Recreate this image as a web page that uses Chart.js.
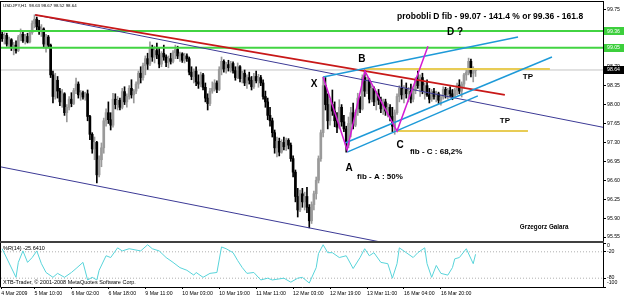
<!DOCTYPE html>
<html><head><meta charset="utf-8">
<script src="https://cdn.jsdelivr.net/npm/chart.js@4.4.0/dist/chart.umd.min.js"></script>
<style>
html,body{margin:0;padding:0;background:#fff;overflow:hidden;width:625px;height:296px}
#w1{position:absolute;left:0;top:0;width:625px;height:243px}
#w2{position:absolute;left:0;top:243px;width:625px;height:53px}
</style></head><body>
<div id="w1"><canvas id="c1"></canvas></div>
<div id="w2"><canvas id="c2"></canvas></div>
<script>
// ---------- DATA (bar index = hourly bar, prices in JPY) ----------
const open = [
99.30,99.22,99.28,99.12,99.20,99.05,99.10,99.00,99.25,99.30,
99.18,99.26,99.16,99.33,99.50,99.58,99.44,99.36,99.40,99.12,
99.25,99.10,98.55,98.15,98.45,98.25,98.05,98.20,97.85,97.95,
98.10,98.02,98.26,98.38,98.18,98.22,98.14,98.20,97.78,97.45,
97.18,97.30,96.70,96.98,97.20,97.70,97.85,97.72,97.62,98.10,
98.00,98.08,97.95,98.24,98.05,98.15,98.30,98.18,98.25,98.38,
98.58,98.50,98.72,98.85,98.75,99.05,98.88,99.00,98.92,98.75,
98.95,98.88,98.78,98.85,98.80,98.96,99.02,98.90,98.94,98.82,
98.90,98.85,98.60,98.52,98.62,98.42,98.38,98.55,98.32,98.12,
98.02,98.25,98.30,98.40,98.28,98.65,98.80,98.66,98.74,98.68,
98.76,98.63,98.50,98.70,98.48,98.58,98.40,98.50,98.45,98.33,
98.52,98.44,98.50,98.40,98.15,98.05,97.80,97.70,97.48,97.20,
97.32,97.12,97.30,97.22,97.34,97.25,97.00,96.75,96.30,96.05,
96.35,96.20,96.30,96.10,95.85,96.15,96.35,96.60,97.00,97.48,
98.35,98.00,97.70,98.00,97.88,97.70,97.58,97.95,97.68,97.55,
97.25,97.65,97.85,97.62,97.86,98.12,97.92,98.50,98.25,98.45,
98.10,98.30,98.05,98.20,98.08,97.92,98.05,97.88,97.95,97.78,
97.60,97.85,98.15,98.30,98.18,98.28,98.20,98.25,98.10,98.26,
98.45,98.35,98.50,98.25,98.35,98.18,98.10,98.24,98.15,98.20,
98.08,98.14,98.28,98.18,98.26,98.20,98.15,98.27,98.36,98.25,
98.38,98.55,98.60,98.80,98.58,98.63];
const high = [
99.36,99.33,99.32,99.25,99.22,99.15,99.18,99.28,99.40,99.35,
99.30,99.32,99.36,99.55,99.66,99.62,99.56,99.48,99.42,99.30,
99.28,99.12,98.62,98.58,98.52,98.30,98.28,98.22,98.00,98.15,
98.22,98.30,98.49,98.42,98.26,98.25,98.23,98.27,97.80,97.48,
97.40,97.32,97.05,97.29,97.75,97.92,98.05,97.85,98.21,98.20,
98.15,98.12,98.30,98.33,98.20,98.35,98.46,98.28,98.42,98.62,
98.70,98.77,98.90,98.95,99.16,99.10,99.08,99.14,99.05,98.98,
99.10,98.92,98.90,98.95,99.00,99.10,99.08,98.97,98.96,98.95,
98.94,98.88,98.70,98.66,98.70,98.55,98.60,98.58,98.40,98.20,
98.30,98.42,98.46,98.44,98.70,98.88,98.83,98.78,98.82,98.80,
98.79,98.70,98.77,98.72,98.62,98.64,98.55,98.60,98.52,98.58,
98.62,98.56,98.54,98.46,98.25,98.12,97.95,97.75,97.53,97.40,
97.38,97.35,97.40,97.38,97.37,97.29,97.05,96.79,96.45,96.42,
96.45,96.38,96.47,96.15,96.20,96.40,96.66,97.05,97.53,98.51,
98.50,98.20,98.10,98.27,98.05,97.85,98.09,98.00,97.80,97.60,
97.77,97.95,98.03,97.90,98.21,98.15,98.55,98.64,98.51,98.48,
98.35,98.33,98.25,98.28,98.14,98.10,98.10,98.02,98.00,97.95,
97.90,98.20,98.35,98.46,98.35,98.40,98.32,98.38,98.30,98.50,
98.62,98.55,98.58,98.40,98.46,98.30,98.28,98.30,98.25,98.23,
98.18,98.33,98.32,98.30,98.33,98.28,98.30,98.40,98.46,98.42,
98.58,98.64,98.86,98.84,98.70,98.67];
const low = [
99.17,99.12,99.08,99.07,99.00,98.92,98.95,98.98,99.18,99.15,
99.12,99.14,99.14,99.30,99.42,99.38,99.30,99.26,99.05,98.97,
99.05,98.50,98.03,98.10,98.12,97.98,97.95,97.80,97.68,97.90,
97.96,98.00,98.20,98.12,98.08,98.10,98.08,97.70,97.35,97.10,
96.98,96.55,96.66,96.85,97.10,97.60,97.65,97.53,97.58,97.92,
97.90,97.90,97.92,98.00,97.95,98.10,98.12,98.03,98.20,98.30,
98.40,98.45,98.55,98.65,98.72,98.80,98.77,98.85,98.68,98.70,
98.82,98.70,98.68,98.75,98.77,98.85,98.85,98.80,98.78,98.77,
98.80,98.55,98.46,98.40,98.35,98.30,98.33,98.27,98.05,97.90,
97.98,98.21,98.25,98.22,98.26,98.55,98.60,98.58,98.62,98.60,
98.58,98.45,98.48,98.42,98.40,98.35,98.30,98.38,98.27,98.30,
98.40,98.32,98.35,98.10,97.95,97.72,97.60,97.40,97.10,97.03,
97.05,97.10,97.16,97.15,97.18,96.95,96.66,96.20,95.92,96.02,
96.10,96.05,96.00,95.72,95.80,96.05,96.25,96.55,96.95,97.40,
97.90,97.55,97.62,97.80,97.59,97.48,97.55,97.60,97.50,97.12,
97.20,97.40,97.55,97.59,97.80,97.85,97.90,98.15,98.20,98.03,
98.05,97.98,97.90,98.00,97.85,97.82,97.80,97.77,97.70,97.50,
97.45,97.82,98.05,98.10,98.03,98.12,98.05,98.03,98.05,98.20,
98.30,98.15,98.20,98.10,98.15,98.03,98.06,98.10,98.05,98.02,
97.99,98.10,98.12,98.10,98.14,98.09,98.12,98.18,98.20,98.14,
98.33,98.45,98.55,98.51,98.42,98.52];
const close = [
99.22,99.28,99.12,99.20,99.05,99.10,99.00,99.25,99.30,99.18,
99.26,99.16,99.33,99.50,99.58,99.44,99.36,99.40,99.12,99.25,
99.10,98.55,98.15,98.45,98.25,98.05,98.20,97.85,97.95,98.10,
98.02,98.26,98.38,98.18,98.22,98.14,98.20,97.78,97.45,97.18,
97.30,96.70,96.98,97.20,97.70,97.85,97.72,97.62,98.10,98.00,
98.08,97.95,98.24,98.05,98.15,98.30,98.18,98.25,98.38,98.58,
98.50,98.72,98.85,98.75,99.05,98.88,99.00,98.92,98.75,98.95,
98.88,98.78,98.85,98.80,98.96,99.02,98.90,98.94,98.82,98.90,
98.85,98.60,98.52,98.62,98.42,98.38,98.55,98.32,98.12,98.02,
98.25,98.30,98.40,98.28,98.65,98.80,98.66,98.74,98.68,98.76,
98.63,98.50,98.70,98.48,98.58,98.40,98.50,98.45,98.33,98.52,
98.44,98.50,98.40,98.15,98.05,97.80,97.70,97.48,97.20,97.32,
97.12,97.30,97.22,97.34,97.25,97.00,96.75,96.30,96.05,96.35,
96.20,96.30,96.10,95.85,96.15,96.35,96.60,97.00,97.48,98.35,
98.00,97.70,98.00,97.88,97.70,97.58,97.95,97.68,97.55,97.25,
97.65,97.85,97.62,97.86,98.12,97.92,98.50,98.25,98.45,98.10,
98.30,98.05,98.20,98.08,97.92,98.05,97.88,97.95,97.78,97.60,
97.85,98.15,98.30,98.18,98.28,98.20,98.25,98.10,98.26,98.45,
98.35,98.50,98.25,98.35,98.18,98.10,98.24,98.15,98.20,98.08,
98.14,98.28,98.18,98.26,98.20,98.15,98.27,98.36,98.25,98.38,
98.55,98.60,98.80,98.58,98.63,98.64];

// Williams %R(14) readings
const wrIdx = [0,6,7,9,11,13,15,17,19,22,24,27,30,32,35,37,39,41,42,45,47,50,52,55,60,63,65,68,71,74,77,80,83,84,87,90,93,95,97,100,102,104,106,109,112,115,117,122,125,128,130,133,136,137,139,141,143,146,149,152,155,157,159,161,164,167,169,171,172,175,178,180,183,184,186,188,190,193,195,196,198,201,204,205];
const wrVal = [-13,-78,-44,-18,-44,-33,-18,-47,-67,-78,-69,-78,-67,-58,-44,-84,-78,-84,-62,-29,-33,-11,-18,-13,-18,-4,-13,-18,-33,-44,-56,-62,-73,-67,-78,-69,-67,-9,-13,-22,-40,-56,-69,-67,-84,-80,-84,-80,-89,-80,-78,-91,-56,-24,-4,-22,-22,-33,-29,-58,-33,-13,-29,-22,-44,-47,-80,-47,-11,-22,-33,-22,-11,-47,-78,-51,-69,-73,-56,-36,-33,-13,-47,-25.641];

// axis ticks
const priceTicks = [95.55,95.90,96.25,96.60,96.95,97.30,97.65,98.00,98.35,98.70,99.05,99.75];
const timeTickIdx = [-0.4,14,30,46,62,78,94,110,126,142,158,174,190];
const timeTickLabels = ["4 Mar 2009","5 Mar 10:00","6 Mar 02:00","6 Mar 18:00","9 Mar 11:00","10 Mar 03:00","10 Mar 19:00","11 Mar 11:00","12 Mar 03:00","12 Mar 19:00","13 Mar 11:00","16 Mar 04:00","16 Mar 20:00"];
const wrTicks = [0,-20,-80,-100];
const wrLevels = [-20,-80];

// drawing objects (bar index, price)
const greenLevels = [99.36, 99.05];
const bidPrice = 98.64;
const redTrend = [[14.3,99.66],[217.7,98.18]];
const navyUpper = [[14.3,99.66],[260.2,97.58]];
const navyLower = [[-0.9,96.85],[163.6,95.46]];
const cyanUpper = [[139,98.51],[223.4,99.25]];
const cyanMid = [[148.5,97.29],[238.1,98.88]];
const cyanLow = [[149.4,97.12],[206,98.16]];
const xabcd = [[139,98.51],[149.4,97.16],[157.1,98.62],[171,97.51],[184.4,99.08]];
const tpUpper = [[157.1,98.66],[237.2,98.66]];
const tpLower = [[171,97.51],[227.7,97.51]];

const header = "USDJPY,H1  98.63 98.67 98.52 98.64";
const notes = [
  {t:"X", x:135.1, y:98.38, k:"big"},
  {t:"B", x:155.8, y:98.84, k:"big"},
  {t:"A", x:150.2, y:96.83, k:"big"},
  {t:"C", x:172.3, y:97.25, k:"big"},
  {t:"D ?", x:196.1, y:99.33, k:"big"},
  {t:"probobli D fib - 99.07 - 141.4 % or 99.36 - 161.8", x:211.3, y:99.62, k:"head"},
  {t:"fib - A : 50%", x:153.7, y:96.66, k:"fibL"},
  {t:"fib - C : 68,2%", x:176.6, y:97.12, k:"fibL"},
  {t:"TP", x:227.7, y:98.51, k:"tp"},
  {t:"TP", x:217.7, y:97.70, k:"tp"},
  {t:"Grzegorz Galara", x:224.2, y:95.73, k:"sig"}
];
const axisBoxes = [{v:99.36, k:"g"},{v:99.05, k:"g"},{v:98.64, k:"b"}];

// ---------- RENDERING ----------
const xMin = -0.5, xMax = 260.2, yMin = 95.476, yMax = 99.898;
const FF = "'Liberation Sans', Arial, sans-serif";
Chart.defaults.font.family = FF;
Chart.defaults.color = '#000';

const noteFont = {
  big:  {f:"bold 10px " + FF, a:"center"},
  head: {f:"bold 8.5px " + FF, a:"center"},
  fibL: {f:"bold 8px " + FF, a:"left"},
  tp:   {f:"bold 8px " + FF, a:"center"},
  sig:  {f:"bold 6.3px " + FF, a:"left"}
};
const boxColor = {g:'#3ccf3c', b:'#000'};

const pts = a => a.map(p => ({x:p[0], y:p[1]}));
function seg(data, color, width, order, dash) {
  return {type:'line', data: pts(data), borderColor: color, borderWidth: width,
    pointRadius: 0, fill: false, tension: 0, order: order, borderDash: dash || []};
}
const candleColor = ctx => close[ctx.dataIndex] >= open[ctx.dataIndex] ? '#9a9a9a' : '#000000';

const wickData = open.map((o, i) => ({x: i, y: [low[i], high[i]]}));
const bodyData = open.map((o, i) => ({x: i, y: [Math.min(o, close[i]), Math.max(o, close[i])]}));

const mainPlugin = {
  id: 'mainDecor',
  afterDatasetsDraw(chart) {
    const {ctx, chartArea: a, scales: {x, y}} = chart;
    ctx.save();
    ctx.fillStyle = '#000';
    ctx.textBaseline = 'middle';
    notes.forEach(n => {
      const st = noteFont[n.k];
      ctx.font = st.f; ctx.textAlign = st.a;
      ctx.fillText(n.t, x.getPixelForValue(n.x), y.getPixelForValue(n.y));
    });
    ctx.font = "4.4px " + FF; ctx.textAlign = 'left';
    ctx.fillText(header, a.left + 2, a.top + 4);
    ctx.restore();
  },
  afterDraw(chart) {
    const {ctx, chartArea: a, scales: {y}} = chart;
    ctx.save();
    ctx.strokeStyle = '#000'; ctx.lineWidth = 1;
    ctx.strokeRect(a.left - 0.5, a.top - 0.5, a.right - a.left + 1, a.bottom - a.top + 1);
    ctx.fillStyle = '#404040';
    ctx.fillRect(0, a.bottom, a.right + 1, 2);
    axisBoxes.forEach(b => {
      const py = y.getPixelForValue(b.v);
      ctx.fillStyle = boxColor[b.k];
      ctx.fillRect(a.right + 1, Math.round(py) - 4, 20, 8);
      ctx.fillStyle = '#fff';
      ctx.font = "5.2px " + FF; ctx.textAlign = 'left'; ctx.textBaseline = 'middle';
      ctx.fillText(b.v.toFixed(2), a.right + 4, py);
    });
    ctx.restore();
  }
};

const datasets = [
  seg([[xMin, bidPrice],[xMax, bidPrice]], '#c4c4c4', 1, 30),
  {type:'bar', data: wickData, backgroundColor: candleColor, borderWidth: 0, grouped: false,
   barThickness: 1, maxBarThickness: 1, minBarLength: 1, order: 20},
  {type:'bar', data: bodyData, backgroundColor: candleColor, borderWidth: 0, grouped: false,
   barThickness: 2, maxBarThickness: 2, minBarLength: 1, order: 19},
  seg([[xMin, greenLevels[0]],[xMax, greenLevels[0]]], '#42d442', 2, 10),
  seg([[xMin, greenLevels[1]],[xMax, greenLevels[1]]], '#42d442', 2, 10),
  seg(navyUpper, '#3c3a96', 1, 9),
  seg(navyLower, '#3c3a96', 1, 9),
  seg(redTrend, '#c81818', 1.6, 8),
  seg(tpUpper, '#e8cc55', 2, 7),
  seg(tpLower, '#e8cc55', 2, 7),
  seg(cyanUpper, '#1e9ad8', 1.5, 6),
  seg(cyanMid, '#1e9ad8', 1.5, 6),
  seg(cyanLow, '#1e9ad8', 1.5, 6),
  seg(xabcd, '#d41cd4', 1.5, 5)
];

new Chart(document.getElementById('c1'), {
  type: 'line',
  data: { datasets },
  options: {
    responsive: true, maintainAspectRatio: false, devicePixelRatio: 1, animation: false, events: [],
    layout: { padding: { left: 1, top: 2, right: 0, bottom: 2 } },
    plugins: { legend: {display: false}, tooltip: {enabled: false} },
    scales: {
      x: { type: 'linear', min: xMin, max: xMax, display: false, offset: false },
      y: { type: 'linear', position: 'right', min: yMin, max: yMax,
        afterBuildTicks: s => { s.ticks = priceTicks.map(v => ({value: v})); },
        afterFit: s => { s.width = 22; s.paddingTop = 0; s.paddingBottom = 0; },
        ticks: { callback: v => Number(v).toFixed(2), font: {size: 5.2}, color: '#000', padding: 1, autoSkip: false },
        grid: { drawOnChartArea: false, drawTicks: true, tickLength: 3, color: '#000' },
        border: { display: true, color: '#000' } }
    }
  },
  plugins: [mainPlugin]
});

// ---------- indicator panel ----------
const wrPlugin = {
  id: 'wrDecor',
  afterDraw(chart) {
    const {ctx, chartArea: a, scales: {y}} = chart;
    ctx.save();
    ctx.strokeStyle = '#000'; ctx.lineWidth = 1;
    ctx.beginPath();
    ctx.moveTo(a.left - 0.5, a.top); ctx.lineTo(a.left - 0.5, a.bottom + 0.5);
    ctx.stroke();
    ctx.fillStyle = '#000'; ctx.font = "5.5px " + FF; ctx.textAlign = 'left'; ctx.textBaseline = 'middle';
    ctx.fillText("%R(14) -25.6410", a.left + 2, a.top + 5);
    ctx.fillText("XTB-Trader, \u00A9 2001-2008 MetaQuotes Software Corp.", a.left + 2, a.bottom - 5);
    ctx.font = "5.2px " + FF;
    const lx = a.right + 4;
    ctx.fillText(String(wrTicks[0]), lx, y.getPixelForValue(wrTicks[0]) + 3);
    ctx.fillText(String(wrTicks[1]), lx, y.getPixelForValue(wrTicks[1]));
    ctx.fillText(String(wrTicks[2]), lx, y.getPixelForValue(wrTicks[2]) - 1);
    ctx.fillText(String(wrTicks[3]), lx, y.getPixelForValue(wrTicks[3]) - 4);
    ctx.restore();
  }
};

new Chart(document.getElementById('c2'), {
  type: 'line',
  data: { datasets: [
    {data: wrIdx.map((v, i) => ({x: v, y: wrVal[i]})), borderColor: '#58d4da', borderWidth: 1, pointRadius: 0, tension: 0, fill: false, order: 1},
    {data: [{x: xMin, y: wrLevels[0]}, {x: xMax, y: wrLevels[0]}], borderColor: '#b0b0b0', borderWidth: 1, borderDash: [1, 2], pointRadius: 0, order: 2},
    {data: [{x: xMin, y: wrLevels[1]}, {x: xMax, y: wrLevels[1]}], borderColor: '#b0b0b0', borderWidth: 1, borderDash: [1, 2], pointRadius: 0, order: 2}
  ]},
  options: {
    responsive: true, maintainAspectRatio: false, devicePixelRatio: 1, animation: false, events: [],
    layout: { padding: { left: 1, top: 0, right: 0, bottom: 0 } },
    plugins: { legend: {display: false}, tooltip: {enabled: false} },
    scales: {
      x: { type: 'linear', min: xMin, max: xMax, position: 'bottom', offset: false,
        afterBuildTicks: s => { s.ticks = timeTickIdx.map(v => ({value: v})); },
        afterFit: s => { s.height = 9; s.paddingLeft = 0; s.paddingRight = 0; },
        ticks: { callback: (v, i) => timeTickLabels[i], font: {size: 5.2}, color: '#000', autoSkip: false, maxRotation: 0, minRotation: 0, align: 'start', padding: 1 },
        grid: { drawOnChartArea: false, drawTicks: true, tickLength: 2, color: '#000' },
        border: { display: true, color: '#000' } },
      y: { type: 'linear', position: 'right', min: -100, max: 0,
        afterBuildTicks: s => { s.ticks = wrTicks.map(v => ({value: v})); },
        afterFit: s => { s.width = 22; s.paddingTop = 0; s.paddingBottom = 0; },
        ticks: { display: false },
        grid: { drawOnChartArea: false, drawTicks: true, tickLength: 3, color: '#000' },
        border: { display: true, color: '#000' } }
    }
  },
  plugins: [wrPlugin]
});
</script>
</body></html>
